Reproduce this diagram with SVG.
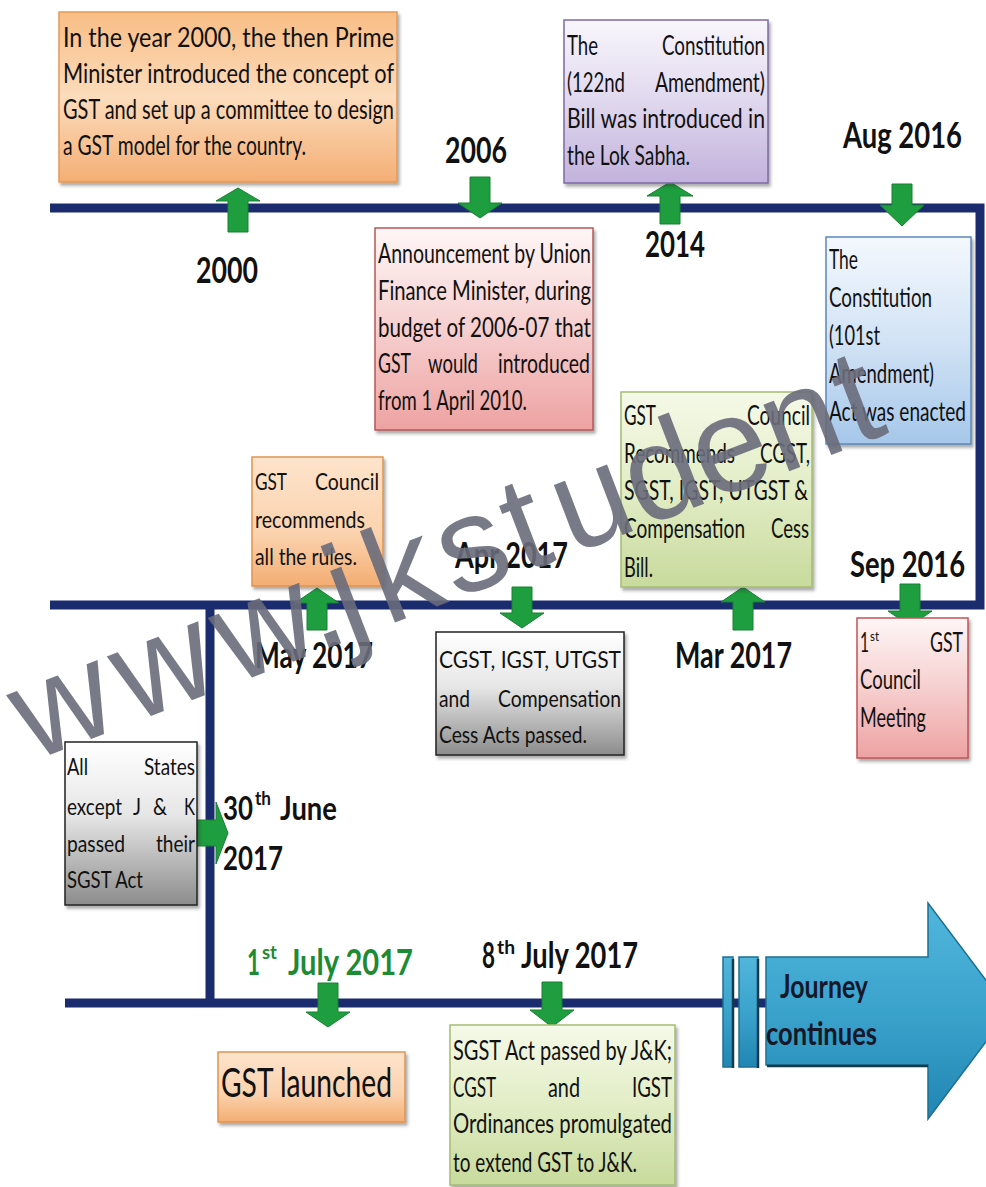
<svg xmlns="http://www.w3.org/2000/svg" width="986" height="1187" viewBox="0 0 986 1187">
  <style>
    .t { font-family: Lato, "Open Sans", "Liberation Sans", sans-serif; font-size: 26px; fill: #111; }
    .s { font-size: 24px; }
    .lb { font-family: Lato, "Open Sans", "Liberation Sans", sans-serif; font-size: 37px; font-weight: bold; fill: #111; }
    .sup { font-family: Lato, "Open Sans", "Liberation Sans", sans-serif; font-weight: bold; font-size: 19px; fill: #111; }
    .grn { fill: #1d8a34; }
    .line { fill: none; stroke: #1b2c6e; stroke-width: 9; stroke-linejoin: miter; }
    .arr { fill: #1f9e3f; stroke: #178032; stroke-width: 1; }
    .box { stroke-width: 1.5; }
    .wm { font-family: "Liberation Sans", Arial, sans-serif; font-size: 135px; fill: #6a6c7b; opacity: 0.9; }
  </style>
  <defs>
    <filter id="sh" x="-10%" y="-10%" width="125%" height="130%">
      <feDropShadow dx="2" dy="3" stdDeviation="1.5" flood-color="#333" flood-opacity="0.4"/>
    </filter>
    <linearGradient id="gOrange" x1="0" y1="0" x2="0" y2="1">
      <stop offset="0" stop-color="#f8bd85"/>
      <stop offset="0.5" stop-color="#fcdcbc"/>
      <stop offset="1" stop-color="#f4ae74"/>
    </linearGradient>
    <linearGradient id="gOrange2" x1="0" y1="0" x2="0" y2="1">
      <stop offset="0" stop-color="#fde4cc"/>
      <stop offset="0.6" stop-color="#fbd2ae"/>
      <stop offset="1" stop-color="#f3ad72"/>
    </linearGradient>
    <linearGradient id="gRed" x1="0" y1="0" x2="0" y2="1">
      <stop offset="0" stop-color="#fff6f6"/>
      <stop offset="0.5" stop-color="#f6cfcf"/>
      <stop offset="1" stop-color="#eea2a2"/>
    </linearGradient>
    <linearGradient id="gPurple" x1="0" y1="0" x2="0" y2="1">
      <stop offset="0" stop-color="#f8f6fc"/>
      <stop offset="0.5" stop-color="#e0d8ee"/>
      <stop offset="1" stop-color="#c2b2dc"/>
    </linearGradient>
    <linearGradient id="gBlue" x1="0" y1="0" x2="0" y2="1">
      <stop offset="0" stop-color="#f4f8fd"/>
      <stop offset="0.5" stop-color="#d2e3f5"/>
      <stop offset="1" stop-color="#a6c7ea"/>
    </linearGradient>
    <linearGradient id="gGreen" x1="0" y1="0" x2="0" y2="1">
      <stop offset="0" stop-color="#f5f9e8"/>
      <stop offset="0.5" stop-color="#e2edc6"/>
      <stop offset="1" stop-color="#c8da9c"/>
    </linearGradient>
    <linearGradient id="gGray" x1="0" y1="0" x2="0" y2="1">
      <stop offset="0" stop-color="#ffffff"/>
      <stop offset="0.45" stop-color="#e6e6e6"/>
      <stop offset="1" stop-color="#8c8c8c"/>
    </linearGradient>
    <linearGradient id="gTeal" x1="0" y1="0" x2="0" y2="1">
      <stop offset="0" stop-color="#52b6dc"/>
      <stop offset="0.5" stop-color="#3aa3cc"/>
      <stop offset="1" stop-color="#2186b2"/>
    </linearGradient>
  </defs>

  <rect width="986" height="1187" fill="#ffffff"/>

  <!-- timeline rails -->
  <g id="connectors">
    <path class="line" d="M50 208 H980 V605 H50"/>
    <path class="line" d="M210 605 V1003"/>
    <path class="line" d="M65 1003 H770"/>
    <polygon class="arr" points="238,188 260,201 248,201 248,232 228,232 228,201 216,201"/>
    <polygon class="arr" points="670,182 693,196 680,196 680,224 660,224 660,196 647,196"/>
    <polygon class="arr" points="317,588 339,603 327,603 327,630 307,630 307,603 295,603"/>
    <polygon class="arr" points="743,587 765,602 753,602 753,630 733,630 733,602 721,602"/>
    <polygon class="arr" points="470,177 490,177 490,203 502,203 480,218 458,203 470,203"/>
    <polygon class="arr" points="892,184 912,184 912,205 924,205 902,226 880,205 892,205"/>
    <polygon class="arr" points="512,587 532,587 532,613 544,613 522,628 500,613 512,613"/>
    <polygon class="arr" points="900,584 920,584 920,611 932,611 910,626 888,611 900,611"/>
    <polygon class="arr" points="318,983 338,983 338,1012 350,1012 328,1027 306,1012 318,1012"/>
    <polygon class="arr" points="542,982 562,982 562,1010 574,1010 552,1027 530,1010 542,1010"/>
    <polygon class="arr" points="197,820 216,820 216,802 228,833 216,864 216,846 197,846"/>
  </g>

  <!-- 2000 -->
  <g id="n2000">
    <rect class="box" x="59" y="12" width="338" height="170" fill="url(#gOrange)" stroke="#e39a5a" filter="url(#sh)"/>
    <text class="t" x="63" y="47" textLength="331" lengthAdjust="spacingAndGlyphs">In the year 2000, the then Prime</text>
    <text class="t" x="63" y="83" textLength="331" lengthAdjust="spacingAndGlyphs">Minister introduced the concept of</text>
    <text class="t" x="63" y="119" textLength="331" lengthAdjust="spacingAndGlyphs">GST and set up a committee to design</text>
    <text class="t" x="63" y="155" textLength="243" lengthAdjust="spacingAndGlyphs">a GST model for the country.</text>
    <text class="lb" x="196" y="283" textLength="62" lengthAdjust="spacingAndGlyphs">2000</text>
  </g>

  <!-- 2006 -->
  <g id="n2006">
    <text class="lb" x="445" y="163" textLength="62" lengthAdjust="spacingAndGlyphs">2006</text>
    <rect class="box" x="375" y="228" width="218" height="202" fill="url(#gRed)" stroke="#b5585a" filter="url(#sh)"/>
    <text class="t" x="378" y="263" textLength="213" lengthAdjust="spacingAndGlyphs">Announcement by Union</text>
    <text class="t" x="378" y="300" textLength="213" lengthAdjust="spacingAndGlyphs">Finance Minister, during</text>
    <text class="t" x="378" y="337" textLength="213" lengthAdjust="spacingAndGlyphs">budget of 2006-07 that</text>
    <text class="t" x="378" y="373" textLength="33" lengthAdjust="spacingAndGlyphs">GST</text>
    <text class="t" x="428" y="373" textLength="50" lengthAdjust="spacingAndGlyphs">would</text>
    <text class="t" x="498" y="373" textLength="92" lengthAdjust="spacingAndGlyphs">introduced</text>
    <text class="t" x="378" y="410" textLength="149" lengthAdjust="spacingAndGlyphs">from 1 April 2010.</text>
  </g>

  <!-- 2014 -->
  <g id="n2014">
    <rect class="box" x="564" y="20" width="204" height="163" fill="url(#gPurple)" stroke="#7d6aa6" filter="url(#sh)"/>
    <text class="t" x="567" y="55" textLength="31" lengthAdjust="spacingAndGlyphs">The</text>
    <text class="t" x="662" y="55" textLength="103" lengthAdjust="spacingAndGlyphs">Constitution</text>
    <text class="t" x="567" y="92" textLength="58" lengthAdjust="spacingAndGlyphs">(122nd</text>
    <text class="t" x="655" y="92" textLength="110" lengthAdjust="spacingAndGlyphs">Amendment)</text>
    <text class="t" x="567" y="128" textLength="198" lengthAdjust="spacingAndGlyphs">Bill was introduced in</text>
    <text class="t" x="567" y="165" textLength="123" lengthAdjust="spacingAndGlyphs">the Lok Sabha.</text>
    <text class="lb" x="645" y="257" textLength="60" lengthAdjust="spacingAndGlyphs">2014</text>
  </g>

  <!-- Aug 2016 -->
  <g id="nAug2016">
    <text class="lb" x="843" y="148" textLength="119" lengthAdjust="spacingAndGlyphs">Aug 2016</text>
    <rect class="box" x="826" y="237" width="145" height="207" fill="url(#gBlue)" stroke="#5a88bb" filter="url(#sh)"/>
    <text class="t" x="829" y="269" textLength="29" lengthAdjust="spacingAndGlyphs">The</text>
    <text class="t" x="829" y="307" textLength="103" lengthAdjust="spacingAndGlyphs">Constitution</text>
    <text class="t" x="829" y="345" textLength="51" lengthAdjust="spacingAndGlyphs">(101st</text>
    <text class="t" x="829" y="383" textLength="105" lengthAdjust="spacingAndGlyphs">Amendment)</text>
    <text class="t" x="829" y="421" textLength="137" lengthAdjust="spacingAndGlyphs">Act was enacted</text>
  </g>

  <!-- Sep 2016 -->
  <g id="nSep2016">
    <text class="lb" x="850" y="577" textLength="115" lengthAdjust="spacingAndGlyphs">Sep 2016</text>
    <rect class="box" x="857" y="618" width="111" height="140" fill="url(#gRed)" stroke="#c05558" filter="url(#sh)"/>
    <text class="t" x="860" y="652" textLength="9" lengthAdjust="spacingAndGlyphs">1</text>
    <text class="t" x="870" y="641" style="font-size:14px" textLength="9" lengthAdjust="spacingAndGlyphs">st</text>
    <text class="t" x="930" y="652" textLength="33" lengthAdjust="spacingAndGlyphs">GST</text>
    <text class="t" x="860" y="689" textLength="61" lengthAdjust="spacingAndGlyphs">Council</text>
    <text class="t" x="860" y="727" textLength="66" lengthAdjust="spacingAndGlyphs">Meeting</text>
  </g>

  <!-- Mar 2017 -->
  <g id="nMar2017">
    <rect class="box" x="621" y="392" width="191" height="195" fill="url(#gGreen)" stroke="#a5bc72" filter="url(#sh)"/>
    <text class="t" x="624" y="425" textLength="32" lengthAdjust="spacingAndGlyphs">GST</text>
    <text class="t" x="747" y="425" textLength="63" lengthAdjust="spacingAndGlyphs">Council</text>
    <text class="t" x="624" y="463" textLength="111" lengthAdjust="spacingAndGlyphs">Recommends</text>
    <text class="t" x="760" y="463" textLength="50" lengthAdjust="spacingAndGlyphs">CGST,</text>
    <text class="t" x="624" y="500" textLength="184" lengthAdjust="spacingAndGlyphs">SGST, IGST, UTGST &amp;</text>
    <text class="t" x="624" y="538" textLength="121" lengthAdjust="spacingAndGlyphs">Compensation</text>
    <text class="t" x="771" y="538" textLength="38" lengthAdjust="spacingAndGlyphs">Cess</text>
    <text class="t" x="624" y="577" textLength="29" lengthAdjust="spacingAndGlyphs">Bill.</text>
    <text class="lb" x="675" y="668" textLength="117" lengthAdjust="spacingAndGlyphs">Mar 2017</text>
  </g>

  <!-- Apr 2017 -->
  <g id="nApr2017">
    <text class="lb" x="455" y="568" textLength="113" lengthAdjust="spacingAndGlyphs">Apr 2017</text>
    <rect class="box" x="436" y="632" width="188" height="123" fill="url(#gGray)" stroke="#222" filter="url(#sh)"/>
    <text class="t s" x="439" y="668" textLength="182" lengthAdjust="spacingAndGlyphs">CGST, IGST, UTGST</text>
    <text class="t s" x="439" y="707" textLength="31" lengthAdjust="spacingAndGlyphs">and</text>
    <text class="t s" x="498" y="707" textLength="123" lengthAdjust="spacingAndGlyphs">Compensation</text>
    <text class="t s" x="439" y="743" textLength="148" lengthAdjust="spacingAndGlyphs">Cess Acts passed.</text>
  </g>

  <!-- May 2017 -->
  <g id="nMay2017">
    <rect class="box" x="252" y="457" width="131" height="129" fill="url(#gOrange2)" stroke="#e09550" filter="url(#sh)"/>
    <text class="t s" x="255" y="490" textLength="32" lengthAdjust="spacingAndGlyphs">GST</text>
    <text class="t s" x="315" y="490" textLength="64" lengthAdjust="spacingAndGlyphs">Council</text>
    <text class="t s" x="255" y="528" textLength="110" lengthAdjust="spacingAndGlyphs">recommends</text>
    <text class="t s" x="255" y="565" textLength="102" lengthAdjust="spacingAndGlyphs">all the rules.</text>
    <text class="lb" x="255" y="668" textLength="118" lengthAdjust="spacingAndGlyphs">May 2017</text>
  </g>

  <!-- 30th June 2017 -->
  <g id="nJune2017">
    <rect class="box" x="65" y="742" width="132" height="163" fill="url(#gGray)" stroke="#222" filter="url(#sh)"/>
    <text class="t s" x="67" y="775" textLength="21" lengthAdjust="spacingAndGlyphs">All</text>
    <text class="t s" x="144" y="775" textLength="51" lengthAdjust="spacingAndGlyphs">States</text>
    <text class="t s" x="67" y="815" textLength="55" lengthAdjust="spacingAndGlyphs">except</text>
    <text class="t s" x="133" y="815" textLength="8" lengthAdjust="spacingAndGlyphs">J</text>
    <text class="t s" x="153" y="815" textLength="14" lengthAdjust="spacingAndGlyphs">&amp;</text>
    <text class="t s" x="184" y="815" textLength="11" lengthAdjust="spacingAndGlyphs">K</text>
    <text class="t s" x="67" y="852" textLength="58" lengthAdjust="spacingAndGlyphs">passed</text>
    <text class="t s" x="156" y="852" textLength="39" lengthAdjust="spacingAndGlyphs">their</text>
    <text class="t s" x="67" y="888" textLength="76" lengthAdjust="spacingAndGlyphs">SGST Act</text>
    <text class="lb" x="223" y="820" style="font-size:32px" textLength="30" lengthAdjust="spacingAndGlyphs">30</text>
    <text class="sup" x="255" y="805" textLength="16" lengthAdjust="spacingAndGlyphs">th</text>
    <text class="lb" x="280" y="820" style="font-size:32px" textLength="57" lengthAdjust="spacingAndGlyphs">June</text>
    <text class="lb" x="223" y="870" style="font-size:32px" textLength="60" lengthAdjust="spacingAndGlyphs">2017</text>
  </g>

  <!-- 1st July 2017 -->
  <g id="nJuly1">
    <text class="lb grn" x="247" y="975" textLength="13" lengthAdjust="spacingAndGlyphs">1</text>
    <text class="sup grn" x="262" y="959" textLength="15" lengthAdjust="spacingAndGlyphs">st</text>
    <text class="lb grn" x="288" y="975" textLength="125" lengthAdjust="spacingAndGlyphs">July 2017</text>
    <rect class="box" x="218" y="1052" width="187" height="70" fill="url(#gOrange2)" stroke="#e09550" filter="url(#sh)"/>
    <text class="t" x="221" y="1097" style="font-size:41px" textLength="171" lengthAdjust="spacingAndGlyphs">GST launched</text>
  </g>

  <!-- 8th July 2017 -->
  <g id="nJuly8">
    <text class="lb" x="482" y="968" textLength="13" lengthAdjust="spacingAndGlyphs">8</text>
    <text class="sup" x="497" y="954" textLength="18" lengthAdjust="spacingAndGlyphs">th</text>
    <text class="lb" x="521" y="968" textLength="117" lengthAdjust="spacingAndGlyphs">July 2017</text>
    <rect class="box" x="450" y="1025" width="225" height="160" fill="url(#gGreen)" stroke="#a5bc72" filter="url(#sh)"/>
    <text class="t" x="453" y="1060" textLength="219" lengthAdjust="spacingAndGlyphs">SGST Act passed by J&amp;K;</text>
    <text class="t" x="453" y="1097" textLength="43" lengthAdjust="spacingAndGlyphs">CGST</text>
    <text class="t" x="548" y="1097" textLength="32" lengthAdjust="spacingAndGlyphs">and</text>
    <text class="t" x="632" y="1097" textLength="40" lengthAdjust="spacingAndGlyphs">IGST</text>
    <text class="t" x="453" y="1133" textLength="219" lengthAdjust="spacingAndGlyphs">Ordinances promulgated</text>
    <text class="t" x="453" y="1172" textLength="184" lengthAdjust="spacingAndGlyphs">to extend GST to J&amp;K.</text>
  </g>

  <!-- continuation arrow -->
  <g id="journey">
    <rect x="723" y="957" width="10" height="110" fill="url(#gTeal)" stroke="#1d6f94" stroke-width="1.5"/>
    <rect x="739" y="957" width="19" height="110" fill="url(#gTeal)" stroke="#1d6f94" stroke-width="1.5"/>
    <path d="M766 957 H928 V903 L1009 1011 L928 1119 V1065 H766 Z" fill="url(#gTeal)" stroke="#1d6f94" stroke-width="1.5"/>
    <path d="M733 959 V1068 M758 959 V1068 M767 1066 H928" stroke="#123a4e" stroke-width="2.5" fill="none"/>
    <text class="lb" x="780" y="998" style="font-size:32px;fill:#16182a" textLength="88" lengthAdjust="spacingAndGlyphs">Journey</text>
    <text class="lb" x="766" y="1045" style="font-size:32px;fill:#16182a" textLength="111" lengthAdjust="spacingAndGlyphs">continues</text>
  </g>

  <!-- site watermark -->
  <g id="watermark" transform="translate(0,774) rotate(-21)">
    <text class="wm" x="34 142 250 340 372 414 488 560 612 688 760 836 916" y="0">www.jkstudent</text>
  </g>
</svg>
